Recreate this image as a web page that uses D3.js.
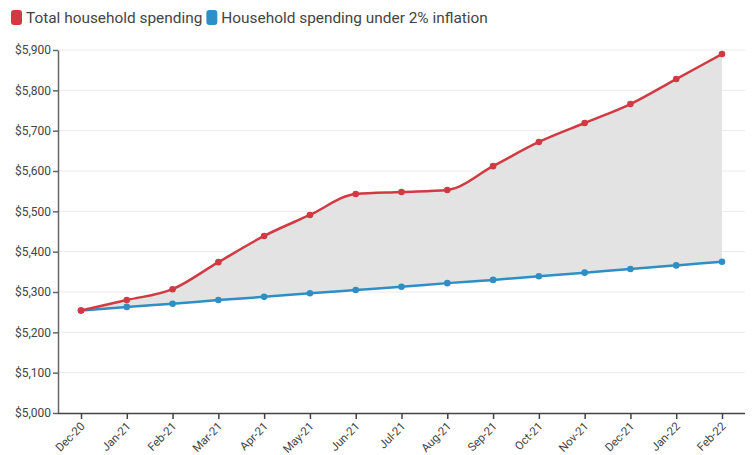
<!DOCTYPE html>
<html><head><meta charset="utf-8">
<script src="https://cdn.jsdelivr.net/npm/d3@7"></script>
<style>body{margin:0;background:#fff;font-family:Roboto,"Noto Sans",sans-serif;}</style>
</head><body>
<svg id="c" width="752" height="455"></svg>
<script>
const months = ["Dec-20","Jan-21","Feb-21","Mar-21","Apr-21","May-21","Jun-21","Jul-21","Aug-21","Sep-21","Oct-21","Nov-21","Dec-21","Jan-22","Feb-22"];
const totalSpending = [5254,5280,5307,5374,5439,5491,5543,5548,5553,5612,5672,5719,5766,5828,5890];
const inflationSpending = [5254,5263,5271,5280,5288,5297,5305,5313,5322,5330,5339,5348,5357,5366,5375];
const yTicks = [5000,5100,5200,5300,5400,5500,5600,5700,5800,5900];
const seriesNames = ["Total household spending","Household spending under 2% inflation"];
const colors = ["#d23a43","#2f8fc5"];

(function(){
const svg = d3.select("#c");
const mLeft = 58, mRight = 745, mTop = 50, mBottom = 413;
const x = d3.scalePoint().domain(months).range([81,722]);
const y = d3.scaleLinear().domain([5000,5900]).range([mBottom, mTop]);

// gridlines
svg.append("g").selectAll("line").data(yTicks.slice(1)).join("line")
  .attr("x1", mLeft).attr("x2", mRight).attr("y1", d=>y(d)).attr("y2", d=>y(d))
  .attr("stroke","#ebebeb").attr("stroke-width",1);

const data = months.map((m,i)=>({m, a: totalSpending[i], b: inflationSpending[i]}));
const curve = d3.curveMonotoneX;
svg.append("path").datum(data)
  .attr("d", d3.area().x(d=>x(d.m)).y0(d=>y(d.b)).y1(d=>y(d.a)).curve(curve))
  .attr("fill","#e3e3e3");

// axes
const yAxis = d3.axisLeft(y).tickValues(yTicks).tickSize(5).tickSizeOuter(0)
  .tickFormat(d=>"$"+d3.format(",")(d));
const gy = svg.append("g").attr("transform",`translate(${mLeft},0)`).call(yAxis);
gy.select(".domain").attr("stroke","#666").attr("stroke-width",1.5);
gy.selectAll(".tick line").attr("stroke","#666").attr("stroke-width",1.5);
gy.selectAll("text").attr("font-size",12).attr("fill","#444").attr("font-family","Roboto,sans-serif").attr("x",-7);

const xAxis = d3.axisBottom(x).tickSize(6).tickSizeOuter(0);
const gx = svg.append("g").attr("transform",`translate(0,${mBottom})`).call(xAxis);
gx.select(".domain").attr("d",`M${mLeft},0.5H${mRight}`).attr("stroke","#444").attr("stroke-width",1.5);
gx.selectAll(".tick line").attr("stroke","#444").attr("stroke-width",1.5);
gx.selectAll("text").attr("font-size",11.5).attr("fill","#444").attr("font-family","Roboto,sans-serif")
  .attr("text-anchor","end").attr("dy",0).attr("y",0)
  .attr("transform","translate(4,14) rotate(-45)");

// lines and points
[[totalSpending,colors[0]],[inflationSpending,colors[1]]].reverse().forEach(([vals,col])=>{
  svg.append("path").datum(vals)
    .attr("d", d3.line().x((d,i)=>x(months[i])).y(d=>y(d)).curve(curve))
    .attr("fill","none").attr("stroke",col).attr("stroke-width",2.5);
  svg.append("g").selectAll("circle").data(vals).join("circle")
    .attr("cx",(d,i)=>x(months[i])).attr("cy",d=>y(d)).attr("r",3.3).attr("fill",col);
});

// legend
const lg = svg.append("g");
let lx = 11;
seriesNames.forEach((n,i)=>{
  lg.append("rect").attr("x",lx).attr("y",10).attr("width",11).attr("height",15).attr("rx",3).attr("fill",colors[i]);
  const t = lg.append("text").attr("x",lx+15).attr("y",23).attr("font-size",15.4).attr("fill","#444")
    .attr("font-family","Roboto,sans-serif").text(n);
  lx += 15 + t.node().getComputedTextLength() + 4;
});
})();
</script>
</body></html>
